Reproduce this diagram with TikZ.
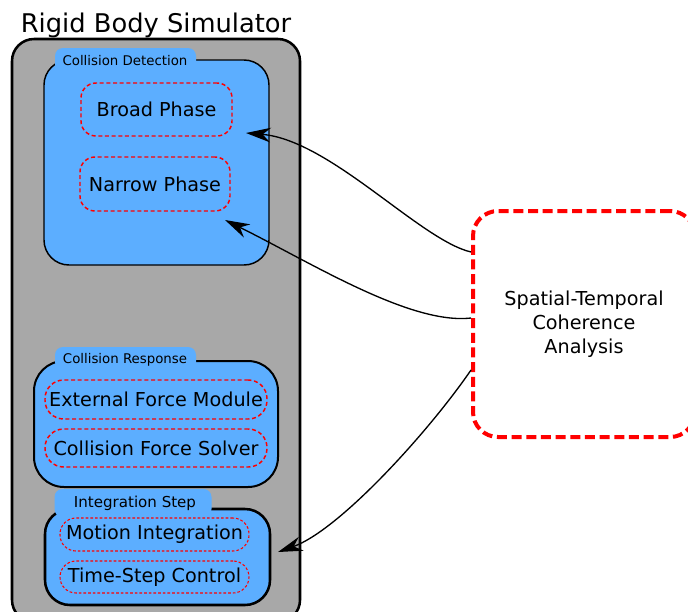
\documentclass[tikz,border=0pt]{standalone}
\usepackage{fontspec}
\setmainfont{DejaVu Sans}
\usetikzlibrary{arrows.meta}
\definecolor{clusterblue}{RGB}{92,174,255}
\definecolor{framegray}{RGB}{168,168,168}
\definecolor{linkred}{RGB}{255,0,0}
\tikzset{
  frame/.style={draw=black, fill=framegray, line width=1.9pt, rounded corners=16.5pt,
    inner sep=0pt},
  cluster/.style={draw=black, fill=clusterblue, inner sep=0pt},
  tab/.style={fill=clusterblue, rounded corners=6pt, inner sep=0pt},
  tablabel/.style={font=\fontsize{10}{12}\selectfont, inner sep=0pt},
  phasebox/.style={draw=linkred, line width=1.1pt, dash pattern=on 3pt off 2pt,
    rounded corners=11.25pt, inner sep=0pt, font=\fontsize{14.4}{17}\selectfont},
  pillbox/.style={draw=linkred, line width=1.1pt, dash pattern=on 3pt off 2pt,
    rounded corners=14pt, inner sep=0pt, font=\fontsize{14.4}{17}\selectfont},
  finebox/.style={draw=linkred, line width=0.8pt, dash pattern=on 2pt off 1.5pt,
    rounded corners=12pt, inner sep=0pt, font=\fontsize{14.4}{17}\selectfont},
  analysis/.style={draw=linkred, line width=3pt, dash pattern=on 7.5pt off 3.5pt,
    rounded corners=18.75pt, fill=white, inner sep=0pt, align=center,
    font=\fontsize{14.4}{18}\selectfont},
  link/.style={draw=black, line width=1pt,
    -{Stealth[length=18.5pt, width=11pt, inset=6pt]}},
}
\begin{document}
\begin{tikzpicture}[x=0.75pt, y=-0.75pt]
  \useasboundingbox (0,0) rectangle (688,611);
  \clip (0,0) rectangle (688,611);

  % outer simulator frame and its title
  \node[frame, minimum width=216pt, minimum height=437.25pt] (sim) at (156,330.5) {};
  \node[anchor=base, inner sep=0pt, font=\fontsize{19.3}{23}\selectfont] (simtitle) at (156,32) {Rigid Body Simulator};

  % collision detection stage
  \node[cluster, line width=1.1pt, rounded corners=18.75pt,
        minimum width=168.75pt, minimum height=153.75pt] (detect) at (156.5,162.5) {};
  \node[tab, minimum width=105.75pt, minimum height=18pt] (detecttab) at (125.5,60) {};
  \node[tablabel] (detectlbl) at (125,61) {Collision Detection};
  \node[phasebox, minimum width=113.25pt, minimum height=39.75pt] (broad) at (156.5,109.5) {Broad Phase};
  \node[phasebox, minimum width=112.5pt, minimum height=40.5pt] (narrow) at (155,184) {Narrow Phase};

  % collision response stage
  \node[cluster, line width=1.5pt, rounded corners=22.5pt,
        minimum width=183pt, minimum height=94.5pt] (response) at (156,424) {};
  \node[tab, minimum width=105.75pt, minimum height=17.25pt] (responsetab) at (125.5,358.5) {};
  \node[tablabel] (responselbl) at (125,360) {Collision Response};
  \node[pillbox, minimum width=166.5pt, minimum height=29.25pt] (external) at (156,399.5) {External Force Module};
  \node[pillbox, minimum width=166.5pt, minimum height=28.5pt] (solver) at (156,448) {Collision Force Solver};

  % integration stage
  \node[cluster, line width=1.9pt, rounded corners=18.75pt,
        minimum width=168.75pt, minimum height=72pt] (integrate) at (157.5,557) {};
  \node[tab, minimum width=117.75pt, minimum height=21pt] (integratetab) at (133,503) {};
  \node[tablabel, font=\fontsize{11.3}{13}\selectfont] (integratelbl) at (135,503) {Integration Step};
  \node[finebox, minimum width=141.75pt, minimum height=24.75pt] (motion) at (154.5,534.5) {Motion Integration};
  \node[finebox, minimum width=141.75pt, minimum height=24pt] (timestep) at (154.5,577) {Time-Step Control};

  % coherence analysis
  \node[analysis, minimum width=166.5pt, minimum height=169.5pt] (coherence) at (584,324)
    {Spatial-Temporal\\Coherence\\Analysis};

  % arrow targets inside the stages
  \coordinate (detecttop) at (246,133);
  \coordinate (detectlow) at (225,220);
  \coordinate (integrateside) at (278,552);

  \draw[link] ([yshift=54pt]coherence.west) .. controls (420,240) and (330,140) .. (detecttop);
  \draw[link] ([yshift=4.5pt]coherence.west) .. controls (410,325) and (310,262) .. (detectlow);
  \draw[link] ([yshift=-34.5pt]coherence.west) .. controls (430,430) and (340,530) .. (integrateside);
\end{tikzpicture}
\end{document}
